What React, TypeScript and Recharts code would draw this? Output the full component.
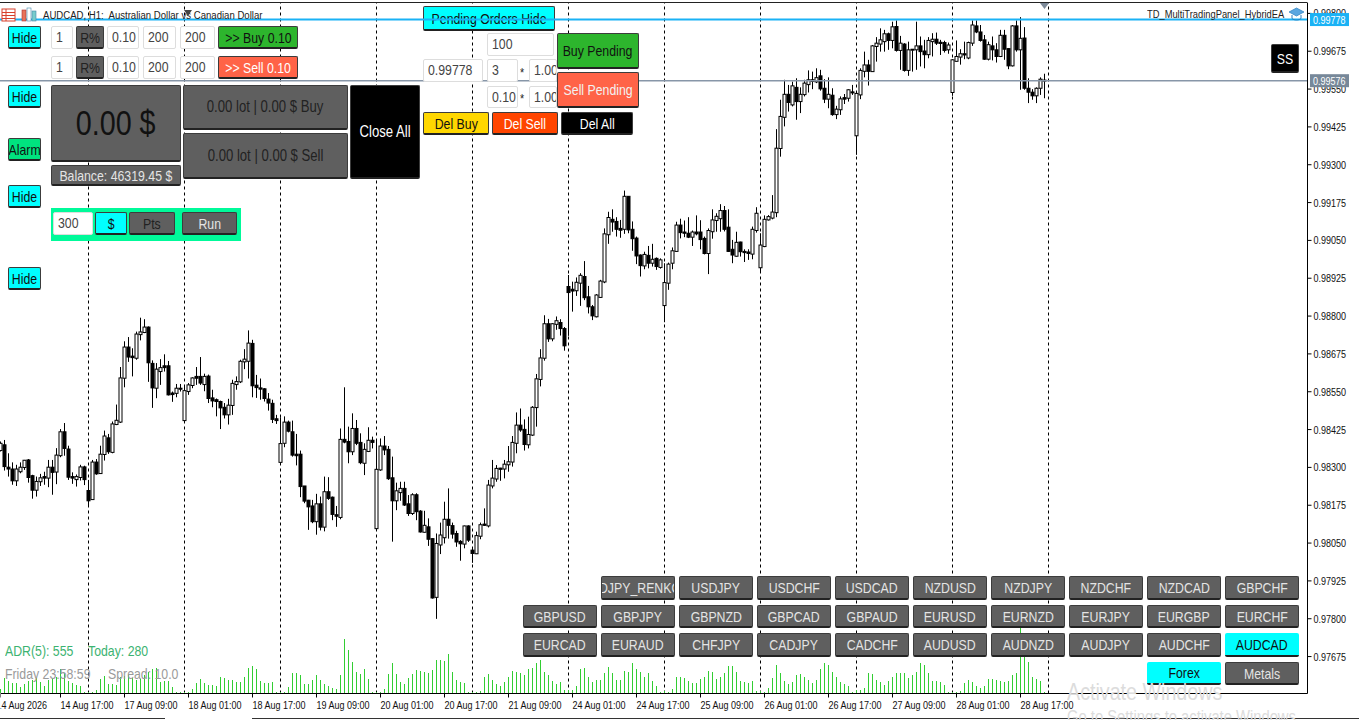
import { Bar, ComposedChart, ReferenceLine, XAxis, YAxis } from "recharts";

// prices are in points (1 point = 0.00001), one bar per hour starting 14 Aug 02:00
const opens = [
  98354, 98373, 98299, 98293, 98254, 98284, 98298, 98323, 98271, 98223,
  98251, 98268, 98263, 98299, 98283, 98337, 98416, 98359, 98268, 98258,
  98265, 98300, 98222, 98192, 98316, 98278, 98341, 98396, 98348, 98440,
  98448, 98593, 98696, 98666, 98659, 98737, 98744, 98762, 98642, 98560,
  98615, 98634, 98634, 98544, 98543, 98560, 98453, 98549, 98569, 98599,
  98599, 98572, 98600, 98528, 98522, 98516, 98497, 98472, 98503, 98572,
  98581, 98647, 98649, 98708, 98570, 98561, 98558, 98524, 98510, 98459,
  98315, 98378, 98448, 98416, 98342, 98342, 98237, 98190, 98171, 98119,
  98178, 98101, 98218, 98200, 98142, 98133, 98391, 98384, 98350, 98427,
  98381, 98312, 98351, 98388, 98096, 98290, 98369, 98358, 98264, 98188,
  98215, 98229, 98178, 98146, 98208, 98154, 98084, 98102, 98063, 97869,
  98042, 98066, 98127, 98106, 98080, 98054, 98045, 98105, 98025, 98013,
  98071, 98111, 98105, 98237, 98260, 98296, 98293, 98307, 98316, 98378,
  98438, 98424, 98373, 98405, 98496, 98589, 98659, 98773, 98723, 98771,
  98777, 98757, 98896, 98887, 98882, 98907, 98929, 98862, 98829, 98796,
  98860, 98911, 99067, 99118, 99111, 99088, 99085, 99194, 99085, 99056,
  99000, 98964, 98999, 98973, 98989, 98959, 98833, 98907, 98973, 99012,
  99099, 99076, 99072, 99059, 99076, 99076, 99055, 99005, 99077, 99114,
  99120, 99147, 99092, 99019, 98996, 99043, 99012, 99010, 99003, 99081,
  98958, 99028, 99116, 99122, 99140, 99352, 99455, 99531, 99496, 99554,
  99507, 99530, 99563, 99579, 99572, 99592, 99551, 99515, 99528, 99464,
  99480, 99520, 99518, 99539, 99394, 99529, 99607, 99628, 99606, 99689,
  99697, 99705, 99731, 99709, 99755, 99676, 99697, 99610, 99678, 99678,
  99691, 99674, 99662, 99705, 99713, 99703, 99702, 99678, 99537, 99640,
  99654, 99665, 99651, 99700, 99757, 99737, 99711, 99647, 99691, 99678,
  99656, 99726, 99682, 99625, 99757, 99678, 99717, 99551, 99538, 99526,
  99551, 99578,
];
const closes = [
  98378, 98301, 98293, 98254, 98293, 98299, 98322, 98265, 98223, 98252,
  98264, 98263, 98299, 98282, 98339, 98416, 98361, 98266, 98263, 98268,
  98300, 98258, 98188, 98316, 98277, 98342, 98402, 98350, 98442, 98454,
  98594, 98696, 98663, 98661, 98739, 98746, 98762, 98644, 98561, 98623,
  98628, 98628, 98538, 98539, 98560, 98557, 98552, 98571, 98594, 98593,
  98577, 98599, 98526, 98518, 98516, 98495, 98472, 98504, 98576, 98582,
  98649, 98656, 98709, 98568, 98562, 98557, 98526, 98511, 98457, 98453,
  98377, 98448, 98418, 98339, 98337, 98235, 98187, 98168, 98119, 98178,
  98101, 98218, 98196, 98143, 98137, 98391, 98382, 98350, 98427, 98378,
  98314, 98358, 98388, 98381, 98292, 98369, 98356, 98261, 98188, 98221,
  98229, 98174, 98146, 98208, 98152, 98085, 98107, 98061, 97867, 98047,
  98075, 98127, 98107, 98078, 98052, 98046, 98105, 98058, 98014, 98073,
  98109, 98107, 98240, 98263, 98295, 98292, 98309, 98317, 98381, 98438,
  98422, 98374, 98407, 98497, 98591, 98660, 98773, 98723, 98773, 98783,
  98757, 98700, 98876, 98881, 98910, 98933, 98859, 98829, 98799, 98868,
  98914, 99070, 99124, 99109, 99085, 99082, 99194, 99083, 99054, 98997,
  98965, 99002, 98973, 98986, 98962, 98984, 98909, 98970, 99014, 99099,
  99074, 99072, 99059, 99076, 99070, 99051, 99005, 99081, 99116, 99128,
  99147, 99085, 99012, 99000, 99042, 99011, 99008, 99005, 99085, 99138,
  99033, 99118, 99127, 99142, 99353, 99458, 99531, 99504, 99559, 99507,
  99531, 99568, 99579, 99574, 99586, 99549, 99515, 99531, 99464, 99482,
  99516, 99515, 99546, 99536, 99534, 99610, 99628, 99607, 99691, 99700,
  99711, 99731, 99709, 99754, 99676, 99700, 99610, 99678, 99680, 99691,
  99672, 99662, 99709, 99713, 99700, 99699, 99676, 99694, 99645, 99656,
  99665, 99661, 99702, 99760, 99737, 99709, 99647, 99695, 99678, 99656,
  99726, 99680, 99625, 99757, 99678, 99716, 99551, 99538, 99526, 99551,
  99581, 99576,
];
const highs = [
  98384, 98389, 98345, 98315, 98307, 98315, 98323, 98326, 98274, 98268,
  98277, 98284, 98323, 98323, 98362, 98425, 98445, 98370, 98282, 98275,
  98307, 98304, 98257, 98323, 98326, 98370, 98420, 98409, 98450, 98506,
  98630, 98715, 98729, 98692, 98747, 98793, 98788, 98764, 98652, 98643,
  98656, 98672, 98650, 98549, 98574, 98574, 98571, 98577, 98596, 98630,
  98663, 98608, 98605, 98555, 98526, 98519, 98511, 98525, 98588, 98599,
  98654, 98689, 98751, 98720, 98604, 98592, 98560, 98544, 98522, 98472,
  98464, 98467, 98453, 98453, 98409, 98354, 98237, 98191, 98191, 98211,
  98202, 98268, 98266, 98202, 98171, 98427, 98563, 98433, 98477, 98455,
  98411, 98378, 98431, 98400, 98389, 98394, 98402, 98369, 98334, 98248,
  98251, 98251, 98207, 98213, 98213, 98157, 98155, 98130, 98064, 98080,
  98116, 98185, 98229, 98116, 98089, 98058, 98106, 98107, 98031, 98086,
  98116, 98163, 98257, 98323, 98306, 98297, 98323, 98369, 98402, 98480,
  98493, 98457, 98466, 98501, 98607, 98689, 98801, 98789, 98775, 98797,
  98788, 98762, 98934, 98912, 98926, 98940, 98980, 98898, 98835, 98871,
  98918, 99088, 99143, 99151, 99125, 99116, 99213, 99195, 99111, 99061,
  99002, 99011, 99030, 99037, 98992, 98989, 98973, 98975, 99025, 99110,
  99120, 99114, 99125, 99081, 99131, 99115, 99061, 99088, 99151, 99138,
  99168, 99162, 99151, 99050, 99077, 99044, 99019, 99019, 99094, 99158,
  99072, 99131, 99132, 99198, 99416, 99513, 99579, 99562, 99573, 99584,
  99554, 99579, 99610, 99606, 99617, 99612, 99581, 99587, 99551, 99493,
  99524, 99532, 99548, 99562, 99535, 99617, 99672, 99645, 99694, 99720,
  99749, 99744, 99735, 99771, 99775, 99724, 99700, 99705, 99680, 99771,
  99722, 99711, 99720, 99733, 99735, 99711, 99708, 99702, 99647, 99709,
  99680, 99705, 99705, 99775, 99775, 99760, 99727, 99705, 99722, 99700,
  99744, 99744, 99683, 99760, 99775, 99786, 99753, 99584, 99548, 99554,
  99587, 99599,
];
const lows = [
  98351, 98288, 98268, 98241, 98237, 98279, 98290, 98248, 98195, 98202,
  98237, 98241, 98233, 98208, 98243, 98332, 98337, 98257, 98244, 98235,
  98255, 98240, 98169, 98191, 98274, 98277, 98321, 98343, 98345, 98438,
  98445, 98563, 98647, 98599, 98654, 98718, 98742, 98581, 98495, 98527,
  98571, 98615, 98536, 98515, 98530, 98549, 98452, 98538, 98560, 98571,
  98571, 98550, 98511, 98497, 98467, 98425, 98460, 98440, 98472, 98555,
  98577, 98623, 98592, 98530, 98528, 98522, 98516, 98486, 98445, 98442,
  98312, 98365, 98414, 98334, 98305, 98200, 98180, 98092, 98114, 98076,
  98090, 98087, 98191, 98124, 98102, 98127, 98378, 98312, 98339, 98372,
  98309, 98273, 98349, 98361, 98094, 98287, 98339, 98257, 98053, 98157,
  98188, 98171, 98138, 98141, 98124, 98083, 98083, 98039, 97865, 97798,
  98012, 98047, 98063, 98063, 98036, 97990, 98031, 98052, 97983, 98012,
  98061, 98105, 98100, 98229, 98251, 98254, 98262, 98284, 98301, 98345,
  98416, 98354, 98361, 98402, 98433, 98566, 98651, 98713, 98715, 98753,
  98734, 98684, 98733, 98813, 98865, 98832, 98851, 98807, 98785, 98794,
  98858, 98907, 99037, 99077, 99061, 99057, 99070, 99072, 99014, 98970,
  98929, 98953, 98956, 98962, 98951, 98955, 98778, 98885, 98953, 99010,
  99055, 99059, 99056, 99030, 99065, 99019, 99002, 98937, 99054, 99077,
  99077, 99078, 99010, 98973, 98995, 98995, 98977, 98984, 98986, 99074,
  98943, 99026, 99114, 99118, 99125, 99325, 99425, 99474, 99491, 99447,
  99469, 99524, 99537, 99548, 99568, 99543, 99502, 99485, 99460, 99449,
  99463, 99499, 99507, 99529, 99331, 99515, 99587, 99560, 99606, 99639,
  99672, 99672, 99678, 99683, 99672, 99612, 99606, 99592, 99606, 99612,
  99623, 99617, 99650, 99656, 99694, 99661, 99669, 99665, 99526, 99639,
  99629, 99647, 99647, 99691, 99733, 99705, 99645, 99643, 99643, 99636,
  99654, 99645, 99614, 99623, 99672, 99546, 99546, 99502, 99513, 99502,
  99529, 99518,
];
const tickVolumes = [
  40, 150, 120, 100, 100, 60, 90, 120, 130, 150,
  110, 70, 130, 150, 160, 240, 200, 120, 100, 80,
  70, 10, 10, 10, 30, 140, 170, 90, 90, 80,
  160, 170, 190, 150, 130, 140, 180, 210, 240, 250,
  110, 120, 120, 60, 10, 10, 10, 10, 40, 100,
  140, 100, 80, 80, 70, 160, 150, 130, 130, 110,
  110, 160, 250, 270, 240, 120, 100, 100, 110, 10,
  10, 10, 60, 200, 200, 180, 90, 90, 130, 180,
  130, 90, 70, 50, 40, 180, 540, 430, 310, 210,
  190, 240, 140, 10, 10, 10, 40, 190, 300, 190,
  110, 90, 150, 190, 230, 220, 210, 200, 230, 330,
  330, 320, 390, 210, 130, 110, 100, 10, 10, 10,
  20, 160, 190, 130, 90, 70, 110, 160, 220, 210,
  200, 180, 240, 250, 300, 330, 210, 180, 120, 90,
  110, 30, 30, 30, 70, 240, 250, 160, 110, 130,
  130, 200, 260, 200, 130, 130, 220, 210, 300, 240,
  210, 160, 200, 120, 70, 10, 20, 10, 40, 160,
  160, 150, 120, 100, 100, 140, 160, 220, 210, 140,
  160, 200, 270, 270, 210, 120, 110, 100, 120, 20,
  20, 10, 50, 150, 280, 200, 120, 90, 110, 180,
  190, 160, 130, 100, 130, 240, 300, 280, 210, 160,
  110, 90, 70, 10, 30, 30, 50, 200, 190, 130,
  110, 80, 120, 160, 200, 200, 200, 150, 180, 210,
  300, 280, 200, 120, 120, 110, 80, 10, 10, 10,
  20, 100, 130, 110, 70, 50, 70, 140, 140, 130,
  120, 110, 120, 180, 200, 650, 400, 310, 160, 140,
  120, 10,
];

const timeTickBars = [0, 15, 31, 47, 63, 79, 95, 111, 127, 143, 159, 175, 191, 207, 223, 239, 255];
const timeTickLabels = [
  "14 Aug 2026", "14 Aug 17:00", "17 Aug 09:00", "18 Aug 01:00", "18 Aug 17:00", "19 Aug 09:00",
  "20 Aug 01:00", "20 Aug 17:00", "21 Aug 09:00", "24 Aug 01:00", "24 Aug 17:00", "25 Aug 09:00",
  "26 Aug 01:00", "26 Aug 17:00", "27 Aug 09:00", "28 Aug 01:00", "28 Aug 17:00",
];
const daySeparatorBars = [22, 46, 70, 94, 118, 142, 166, 190, 214, 238, 262];
const priceTicks = [
  97675, 97800, 97925, 98050, 98175, 98300, 98425, 98550, 98675, 98800, 98925, 99050, 99175, 99300,
  99425, 99550, 99675, 99800,
];
const askPrice = 99778;
const bidPrice = 99576;

const symbolRow1 = ["USDJPY_RENKO", "USDJPY", "USDCHF", "USDCAD", "NZDUSD", "NZDJPY", "NZDCHF", "NZDCAD", "GBPCHF"];
const symbolRow2 = ["GBPUSD", "GBPJPY", "GBPNZD", "GBPCAD", "GBPAUD", "EURUSD", "EURNZD", "EURJPY", "EURGBP", "EURCHF"];
const symbolRow3 = ["EURCAD", "EURAUD", "CHFJPY", "CADJPY", "CADCHF", "AUDUSD", "AUDNZD", "AUDJPY", "AUDCHF", "AUDCAD"];

const bars = opens.map((open, i) => ({
  bar: i,
  open,
  close: closes[i],
  high: highs[i],
  low: lows[i],
  range: [lows[i], highs[i]],
  volume: tickVolumes[i],
}));

const SANS = "'Liberation Sans', Arial, sans-serif";
const SQUEEZE = 0.82; // the terminal font is narrower than anything installed
const fmtPrice = (v: number) => (v / 100000).toFixed(5);

function Candle(props: any) {
  const { x, y, width, height, payload } = props;
  const cx = Math.round(x + width / 2);
  const top = Math.min(y, y + height);
  const span = Math.abs(height);
  const yOf = (price: number) => top + ((payload.high - price) / (payload.high - payload.low)) * span;
  const up = payload.close >= payload.open;
  const bodyTop = yOf(Math.max(payload.open, payload.close));
  const bodyBottom = yOf(Math.min(payload.open, payload.close));
  return (
    <g>
      <line x1={cx + 0.5} x2={cx + 0.5} y1={top} y2={top + span} stroke="#000" strokeWidth={1} />
      <rect
        x={cx - 1}
        y={bodyTop}
        width={3}
        height={Math.max(bodyBottom - bodyTop, 1)}
        fill={up ? "#fff" : "#000"}
        stroke="#000"
        strokeWidth={1}
      />
    </g>
  );
}

function VolumeBar({ x, y, width, height }: any) {
  return <rect x={Math.round(x + width / 2)} y={y} width={1} height={height} fill="#32cd32" />;
}

function SqueezedText({ x, y, size = 11, fill = "#111", children }: any) {
  return (
    <text transform={`translate(${x},${y}) scale(${SQUEEZE},1)`} fontSize={size} fontFamily={SANS} fill={fill}>
      {children}
    </text>
  );
}

function TimeTick({ x, y, payload }: any) {
  const i = timeTickBars.indexOf(payload.value);
  return (
    <SqueezedText x={i === 0 ? x - 4 : x} y={y + 9}>
      {timeTickLabels[i]}
    </SqueezedText>
  );
}

function PriceTick({ x, y, payload }: any) {
  return (
    <SqueezedText x={x} y={y + 4}>
      {fmtPrice(payload.value)}
    </SqueezedText>
  );
}

function PriceTag({ viewBox, value, bg }: any) {
  const left = viewBox.x + viewBox.width + 3;
  return (
    <g>
      <rect x={left} y={viewBox.y - 6.5} width={39} height={13} fill={bg} />
      <SqueezedText x={left + 3} y={viewBox.y + 4} fill="#fff">
        {value}
      </SqueezedText>
    </g>
  );
}

function Squeezed({ children, origin = "center" }: any) {
  return (
    <span style={{ display: "inline-block", flexShrink: 0, transform: `scaleX(${SQUEEZE})`, transformOrigin: origin }}>
      {children}
    </span>
  );
}

function Btn({ x, y, w, h, label, bg = "#5f5f5f", color = "#e4e4e4", size = 15, style }: any) {
  return (
    <div
      style={{
        position: "absolute",
        left: x,
        top: y,
        width: w,
        height: h,
        boxSizing: "border-box",
        background: bg,
        color,
        fontFamily: SANS,
        fontSize: size,
        display: "flex",
        alignItems: "center",
        justifyContent: "center",
        whiteSpace: "nowrap",
        overflow: "hidden",
        border: "1px solid #3c3c3c",
        borderBottom: "2px solid #222",
        borderRadius: 2,
        ...style,
      }}
    >
      <Squeezed>{label}</Squeezed>
    </div>
  );
}

function Field({ x, y, w, h, label }: any) {
  return (
    <div
      style={{
        position: "absolute",
        left: x,
        top: y,
        width: w,
        height: h,
        boxSizing: "border-box",
        background: "#fff",
        color: "#444",
        fontFamily: SANS,
        fontSize: 15,
        lineHeight: `${h - 3}px`,
        paddingLeft: 4,
        whiteSpace: "nowrap",
        overflow: "hidden",
        border: "1px solid #ddd",
        borderRadius: 2,
      }}
    >
      <Squeezed origin="left">{label}</Squeezed>
    </div>
  );
}

function Caption({ x, y, children, color = "#000", size = 15 }: any) {
  return (
    <div
      style={{
        position: "absolute",
        left: x,
        top: y,
        color,
        fontFamily: SANS,
        fontSize: size,
        whiteSpace: "nowrap",
        lineHeight: 1,
      }}
    >
      <Squeezed origin="left">{children}</Squeezed>
    </div>
  );
}

function TradeRow({ y, action, bg }: any) {
  return (
    <>
      <Field x={51} y={y} w={22} h={23} label="1" />
      <Btn x={76} y={y} w={28} h={23} label="R%" color="#222" />
      <Field x={107} y={y} w={32} h={23} label="0.10" />
      <Field x={143} y={y} w={33} h={23} label="200" />
      <Field x={180} y={y} w={35} h={23} label="200" />
      <Btn x={218} y={y} w={80} h={23} label={action} bg={bg} color={bg === "#2db52d" ? "#111" : "#fff"} />
    </>
  );
}

const cyan = "#00ffff";
const hideStyle = { color: "#111" };
const colX = (col: number) => 523 + col * 78;

const plotMargin = { top: 2, right: 52, bottom: 27, left: 0 };

export default function App() {
  return (
    <div style={{ position: "absolute", left: 0, top: 0, width: 1359, height: 720, overflow: "hidden", background: "#fff" }}>
      {/* axes and day separators stay underneath everything else; the half pixel keeps 1px lines crisp */}
      <div style={{ position: "absolute", left: 0, top: 0, transform: "translate(0.5px, 0.5px)" }}>
        <ComposedChart width={1359} height={720} data={bars} margin={{ ...plotMargin, right: 0, bottom: 0 }}>
          <XAxis
            xAxisId="time"
            dataKey="bar"
            type="number"
            domain={[0, 326.75]}
            ticks={timeTickBars}
            tick={<TimeTick />}
            tickLine={{ stroke: "#000" }}
            tickSize={4}
            axisLine={{ stroke: "#000" }}
            interval={0}
            height={27}
          />
          <YAxis
            yAxisId="price"
            orientation="right"
            type="number"
            domain={[97553, 99836]}
            ticks={priceTicks}
            interval={0}
            width={52}
            tickSize={4}
            tickMargin={2}
            tick={<PriceTick />}
            tickLine={{ stroke: "#000" }}
            axisLine={{ stroke: "#000" }}
          />
          {/* the price axis only draws its ticks when a series is attached to it */}
          <Bar xAxisId="time" yAxisId="price" dataKey="range" barSize={1} shape={() => null} isAnimationActive={false} />
          {daySeparatorBars.map((b) => (
            <ReferenceLine
              key={b}
              xAxisId="time"
              yAxisId="price"
              x={b}
              stroke="#000"
              strokeDasharray="3 3"
              strokeWidth={1}
            />
          ))}
        </ComposedChart>
      </div>

      {/* sits under the chart so the ask line runs across it */}
      <Btn x={423} y={6} w={132} h={25} label="Pending Orders Hide" bg={cyan} color="#111" />

      <div style={{ position: "absolute", left: 0, top: 0 }}>
        <ComposedChart width={1359} height={720} data={bars} barGap={0} margin={plotMargin}>
          <XAxis xAxisId="time" dataKey="bar" type="number" domain={[0, 326.75]} hide />
          <XAxis xAxisId="vol" dataKey="bar" type="number" domain={[0, 326.75]} hide />
          <YAxis yAxisId="price" type="number" domain={[97553, 99836]} hide />
          <YAxis yAxisId="vol" type="number" domain={[0, 6910]} hide />
          <Bar
            xAxisId="vol"
            yAxisId="vol"
            dataKey="volume"
            barSize={1}
            shape={(p: any) => <VolumeBar {...p} />}
            isAnimationActive={false}
          />
          <Bar
            xAxisId="time"
            yAxisId="price"
            dataKey="range"
            barSize={3}
            shape={(p: any) => <Candle {...p} />}
            isAnimationActive={false}
          />
          <ReferenceLine
            xAxisId="time"
            yAxisId="price"
            y={askPrice}
            stroke="#1ab2f5"
            strokeWidth={2}
            label={<PriceTag value={fmtPrice(askPrice)} bg="#1ab2f5" />}
          />
          <ReferenceLine
            xAxisId="time"
            yAxisId="price"
            y={bidPrice}
            stroke="#8796a8"
            strokeWidth={1.5}
            label={<PriceTag value={fmtPrice(bidPrice)} bg="#778899" />}
          />
        </ComposedChart>
      </div>

      <div style={{ position: "absolute", left: 0, top: 2, width: 1307, height: 1, background: "#222" }} />
      <div style={{ position: "absolute", left: 0, top: 718, width: 165, height: 1, background: "#333" }} />
      <div style={{ position: "absolute", left: 252, top: 718, width: 1107, height: 1, background: "#333" }} />

      {/* title bar */}
      <svg style={{ position: "absolute", left: 0, top: 6 }} width={40} height={18}>
        <rect x={2} y={3} width={13} height={12} fill="#fff" stroke="#d8402c" />
        <path d="M2 6.5h13M2 9.5h13M2 12.5h13M6 3v12" stroke="#d8402c" />
        <rect x={22} y={4} width={4} height={11} fill="#e8735a" stroke="#a33" strokeWidth={0.6} />
        <rect x={27} y={2} width={4} height={13} fill="#fff" stroke="#48a" strokeWidth={0.6} />
        <rect x={32} y={5} width={4} height={10} fill="#7cc" stroke="#48a" strokeWidth={0.6} />
      </svg>
      <Caption x={43} y={9} size={11.7} color="#222">
        AUDCAD, H1:&nbsp; Australian Dollar vs Canadian Dollar
      </Caption>
      <svg style={{ position: "absolute", left: 183, top: 9 }} width={14} height={10}>
        <path d="M1 1h8l-4 6z" fill="#444" />
      </svg>
      <svg style={{ position: "absolute", left: 1039, top: 3 }} width={12} height={8}>
        <path d="M1 0h9l-4.5 6z" fill="#7d8a99" />
      </svg>
      <Caption x={1147} y={9} size={11.4} color="#222">
        TD_MultiTradingPanel_HybridEA
      </Caption>
      <svg style={{ position: "absolute", left: 1288, top: 7 }} width={17} height={15}>
        <path d="M1 5l7.5-4 7.5 4-7.5 4z" fill="#5aa6e0" stroke="#2a7fc0" strokeWidth={0.7} />
        <path d="M4 8v3.5c2 2 7 2 9 0V8" fill="none" stroke="#2a7fc0" />
      </svg>

      {/* left column */}
      <Btn x={8} y={26} w={33} h={23} label="Hide" bg={cyan} style={hideStyle} />
      <Btn x={8} y={85} w={33} h={23} label="Hide" bg={cyan} style={hideStyle} />
      <Btn x={8} y={138} w={33} h={23} label="Alarm" bg="#00e37f" style={hideStyle} />
      <Btn x={8} y={185} w={33} h={23} label="Hide" bg={cyan} style={hideStyle} />
      <Btn x={8} y={267} w={33} h={23} label="Hide" bg={cyan} style={hideStyle} />

      <TradeRow y={26} action=">> Buy 0.10" bg="#2db52d" />
      <TradeRow y={56} action=">> Sell 0.10" bg="#ff6347" />

      <Btn x={51} y={85} w={130} h={77} label="0.00 $" size={35} color="#111" />
      <Btn x={51} y={165} w={130} h={21} label="Balance: 46319.45 $" />
      <Btn x={183} y={85} w={165} h={45} label="0.00 lot | 0.00 $ Buy" color="#222" size={16} />
      <Btn x={183} y={133} w={165} h={46} label="0.00 lot | 0.00 $ Sell" color="#222" size={16} />
      <Btn x={350} y={85} w={70} h={94} label="Close All" bg="#000" color="#fff" size={16} />

      {/* pending orders */}
      <Field x={487} y={33} w={67} h={23} label="100" />
      <Field x={423} y={59} w={60} h={23} label="0.99778" />
      <Field x={487} y={59} w={31} h={23} label="3" />
      <Caption x={520} y={66} size={13} color="#222">*</Caption>
      <Field x={529} y={59} w={28} h={23} label="1.00" />
      <Field x={487} y={86} w={31} h={22} label="0.10" />
      <Caption x={520} y={92} size={13} color="#222">*</Caption>
      <Field x={529} y={86} w={28} h={22} label="1.00" />
      <Btn x={557} y={33} w={82} h={36} label="Buy Pending" bg="#2db52d" color="#111" />
      <Btn x={557} y={72} w={82} h={36} label="Sell Pending" bg="#ff6347" color="#f2f2f2" />
      <Btn x={423} y={112} w={66} h={23} label="Del Buy" bg="#ffd700" color="#111" />
      <Btn x={492} y={112} w={66} h={23} label="Del Sell" bg="#ff4500" color="#fff" />
      <Btn x={561} y={112} w={72} h={23} label="Del All" bg="#000" color="#fff" />

      {/* target box */}
      <div style={{ position: "absolute", left: 51, top: 208, width: 190, height: 33, background: "#00fa9a" }} />
      <Field x={53} y={212} w={40} h={23} label="300" />
      <Btn x={95} y={212} w={32} h={23} label="$" bg={cyan} color="#111" />
      <Btn x={129} y={212} w={46} h={23} label="Pts" color="#222" />
      <Btn x={182} y={212} w={55} h={23} label="Run" />

      <Btn x={1271} y={44} w={28} h={29} label="SS" bg="#000" color="#fff" />

      <Caption x={5} y={643} color="#3cb371">ADR(5): 555</Caption>
      <Caption x={88} y={643} color="#3cb371">Today: 280</Caption>
      <Caption x={5} y={666} color="#9a9a9a">Friday 23:58:59</Caption>
      <Caption x={108} y={666} color="#9a9a9a">Spread: 10.0</Caption>

      {/* symbol grid */}
      {symbolRow1.map((s, i) => (
        <Btn key={s} x={colX(i + 1)} y={576} w={74} h={24} label={s} style={i === 0 ? { paddingRight: 14 } : undefined} />
      ))}
      {symbolRow2.map((s, i) => (
        <Btn key={s} x={colX(i)} y={605} w={74} h={23} label={s} />
      ))}
      {symbolRow3.map((s, i) => (
        <Btn
          key={s}
          x={colX(i)}
          y={633}
          w={74}
          h={24}
          label={s}
          bg={s === "AUDCAD" ? cyan : undefined}
          color={s === "AUDCAD" ? "#111" : undefined}
          style={s === "AUDCAD" ? { border: "none" } : undefined}
        />
      ))}
      <Btn x={colX(8)} y={662} w={74} h={23} label="Forex" bg={cyan} color="#111" style={{ border: "none" }} />
      <Btn x={colX(9)} y={662} w={74} h={23} label="Metals" />

      <Caption x={1067} y={680} size={24} color="#dcdcdc">Activate Windows</Caption>
      <Caption x={1067} y={708} size={18} color="#dcdcdc">Go to Settings to activate Windows.</Caption>
    </div>
  );
}
